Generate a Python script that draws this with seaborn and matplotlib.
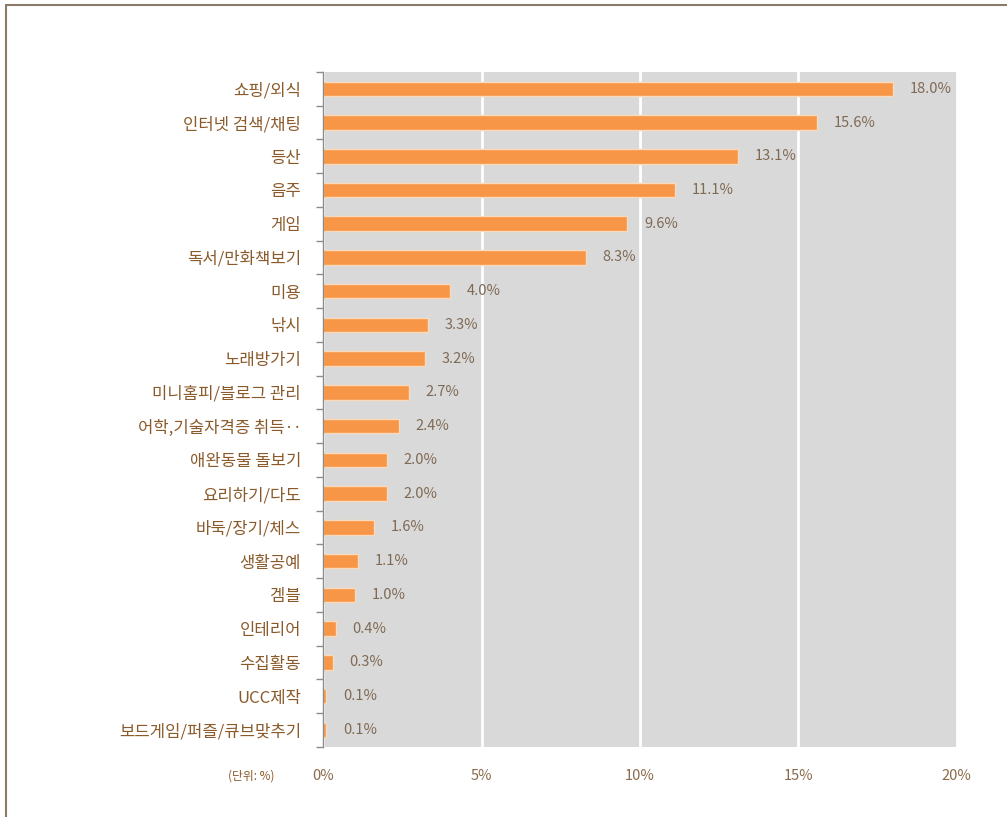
import pandas as pd
import seaborn as sns
import matplotlib.pyplot as plt
from matplotlib.lines import Line2D

# 여가활동 비율 (단위: %)
activities = ["쇼핑/외식", "인터넷 검색/채팅", "등산", "음주", "게임", "독서/만화책보기",
              "미용", "낚시", "노래방가기", "미니홈피/블로그 관리", "어학,기술자격증 취득‥",
              "애완동물 돌보기", "요리하기/다도", "바둑/장기/체스", "생활공예", "겜블",
              "인테리어", "수집활동", "UCC제작", "보드게임/퍼즐/큐브맞추기"]
shares = [18.0, 15.6, 13.1, 11.1, 9.6, 8.3, 4.0, 3.3, 3.2, 2.7, 2.4,
          2.0, 2.0, 1.6, 1.1, 1.0, 0.4, 0.3, 0.1, 0.1]
xticks = [0, 5, 10, 15, 20]
xtick_labels = ["0%", "5%", "10%", "15%", "20%"]

df = pd.DataFrame({"activity": activities, "share": shares})

sns.set_theme(style="white")
plt.rcParams["font.family"] = ["Noto Sans CJK KR", "DejaVu Sans"]

fig = plt.figure(figsize=(10.07, 8.17), dpi=100)
ax = fig.add_axes([0.321, 0.086, 0.629, 0.826])
ax.set_facecolor("#d9d9d9")

sns.barplot(x="share", y="activity", data=df, orient="h", color="#f79646",
            saturation=1, width=0.43, edgecolor="#fbd9bb", linewidth=1.0, ax=ax)

ax.bar_label(ax.containers[0], labels=[f"{v:.1f}%" for v in shares],
             padding=12, fontsize=10.5, color="#7f6a55")

ax.set_xlim(0, 20)
ax.set_ylim(len(activities) - 0.5, -0.5)
ax.set_xticks(xticks)
ax.set_xticklabels(xtick_labels, color="#8a6a4a", fontsize=10.5)
ax.xaxis.grid(True, color="white", linewidth=2)
ax.set_axisbelow(True)
ax.tick_params(axis="x", length=0, pad=16)

ax.set_yticks(range(len(activities)))
ax.set_yticklabels(activities, color="#8a5a2a", fontsize=12, fontweight="medium")
ax.set_yticks([i - 0.5 for i in range(len(activities) + 1)], minor=True)
ax.tick_params(axis="y", which="major", length=0, pad=16)
ax.tick_params(axis="y", which="minor", length=5, color="#8c8c8c", direction="out", left=True)
ax.set_xlabel("")
ax.set_ylabel("")

for side in ["top", "right", "bottom"]:
    ax.spines[side].set_visible(False)
ax.spines["left"].set_color("#8c8c8c")
ax.spines["left"].set_linewidth(1)

fig.text(0.25, 0.05, "(단위: %)", fontsize=8.5, color="#8a5a2a", ha="center", va="center")

# 외곽 테두리 (왼쪽, 위쪽)
fig.add_artist(Line2D([0.006, 0.006], [0.0, 0.994], color="#8b7b6b", linewidth=1.5))
fig.add_artist(Line2D([0.006, 1.0], [0.994, 0.994], color="#8b7b6b", linewidth=1.5))

fig.savefig("out.png", dpi=100)
